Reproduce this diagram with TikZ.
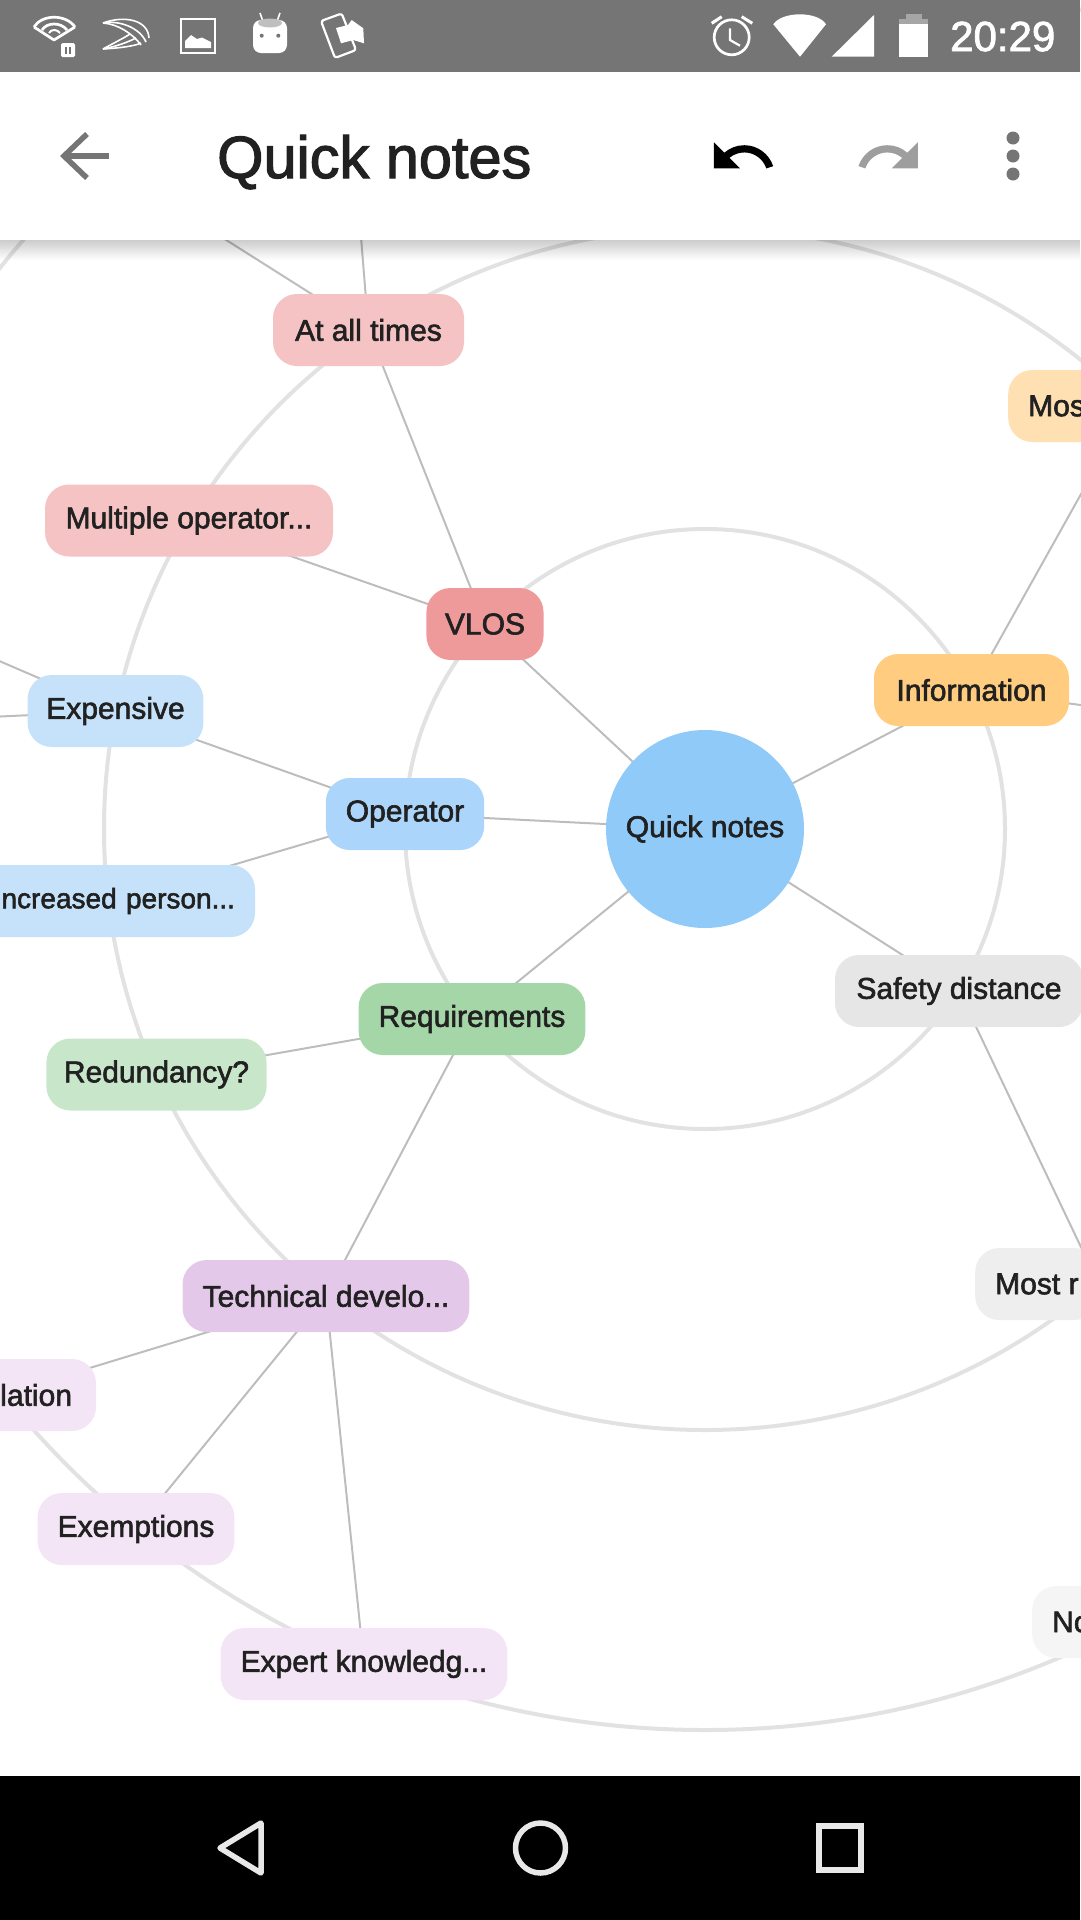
\documentclass[tikz,border=0pt]{standalone}
\usepackage{fontspec}
\setmainfont{Liberation Sans}
\newfontfamily\medfont[FakeBold=2]{Liberation Sans}
\usetikzlibrary{backgrounds}
\definecolor{ringgray}{HTML}{E2E2E2}
\definecolor{edgegray}{HTML}{BDBDBD}
\definecolor{inkgray}{HTML}{212121}
\definecolor{barmid}{HTML}{757575}
\definecolor{navgray}{HTML}{E8E8E8}
\definecolor{centerblue}{HTML}{90CAF9}
\definecolor{opblue}{HTML}{ABD5FA}
\definecolor{leafblue}{HTML}{C6E2FA}
\definecolor{vlosred}{HTML}{EF9A9A}
\definecolor{leafred}{HTML}{F5C3C4}
\definecolor{reqgreen}{HTML}{A5D6A7}
\definecolor{leafgreen}{HTML}{C8E6C9}
\definecolor{techpurple}{HTML}{E4C8EA}
\definecolor{leafpurple}{HTML}{F3E5F5}
\definecolor{infoorange}{HTML}{FFCC80}
\definecolor{leaforange}{HTML}{FFE0B2}
\definecolor{safegray}{HTML}{E6E6E6}
\definecolor{leafgray}{HTML}{EEEEEE}
\definecolor{farleaf}{HTML}{F5F5F5}
\tikzset{
    label font/.style={font=\medfont\fontsize{30}{36}\selectfont},
    bubble/.style={rounded corners=24pt, minimum height=72pt, inner xsep=20pt, inner ysep=0pt,
        text=inkgray, label font},
    ring/.style={draw=ringgray, line width=4pt},
    edge/.style={draw=edgegray, line width=2pt},
    barline/.style={draw=white, line width=2.7pt},
    navline/.style={draw=navgray, line width=5.5pt, line join=round},
}
\begin{document}
\begin{tikzpicture}[x=1pt,y=-1pt]
    \useasboundingbox (0,0) rectangle (1080,1920);

    \node[circle, fill=centerblue, minimum size=198pt, inner sep=0pt, text=inkgray, label font] (quick) at (705,829) {Quick notes};

    \node[bubble, fill=vlosred, inner xsep=18.5pt] (vlos) at (485,624) {VLOS};
    \node[bubble, fill=leafred, minimum width=191pt] (times) at (368.5,330) {At all times};
    \node[bubble, fill=leafred, minimum width=288pt] (multi) at (189,520.5) {Multiple operator...};

    \node[bubble, fill=opblue] (operator) at (405,814) {Operator};
    \node[bubble, fill=leafblue, inner xsep=18.7pt] (expensive) at (115.5,711) {Expensive};
    \node[bubble, fill=leafblue, text width=248pt, align=right, font=\medfont\fontsize{28}{34}\selectfont] (person) at (111,901) {\hspace*{\fill}\llap{ncreased person...}};

    \node[bubble, fill=reqgreen] (require) at (472,1019) {Requirements};
    \node[bubble, fill=leafgreen, inner xsep=17.5pt] (redund) at (156.5,1074.5) {Redundancy?};

    \node[bubble, fill=techpurple] (tech) at (326,1296) {Technical develo...};
    \node[bubble, fill=leafpurple, text width=150pt, align=right] (lation) at (1,1395) {\hspace*{\fill}\llap{lation\hspace{4pt}}};
    \node[bubble, fill=leafpurple] (exempt) at (136,1529) {Exemptions};
    \node[bubble, fill=leafpurple] (expert) at (364,1664) {Expert knowledg...};

    \node[bubble, fill=infoorange, minimum width=195pt] (info) at (971.5,690) {Information};
    \node[bubble, fill=leaforange, anchor=west] (mos) at (1008,406) {Mos\hspace{40pt}};
    \node[bubble, fill=safegray, minimum width=248pt] (safety) at (959,991) {Safety distance};
    \node[bubble, fill=leafgray, anchor=west] (mostr) at (975,1284) {Most r\hspace{60pt}};
    \node[bubble, fill=farleaf, anchor=west] (no) at (1032,1622) {No\hspace{40pt}};

    % off screen ends
    \coordinate (timesa) at (163,200);
    \coordinate (timesb) at (358,200);
    \coordinate (expa) at (-10,657);
    \coordinate (expb) at (-10,717);
    \coordinate (infoa) at (1090,478);
    \coordinate (infob) at (1095,707);
    \coordinate (safea) at (1120,1329);

    \begin{scope}[on background layer]
        \draw[ring] (quick.center) circle[radius=300];
        \draw[ring] (quick.center) circle[radius=601];
        \draw[ring] (quick.center) circle[radius=901];

        \foreach \from/\to in {quick/vlos, quick/operator, quick/require, quick/info, quick/safety,
            vlos/times, vlos/multi, times/timesa, times/timesb,
            operator/expensive, operator/person, expensive/expa, expensive/expb,
            require/redund, require/tech, tech/lation, tech/exempt, tech/expert,
            info/infoa, info/infob, safety/safea}
            \draw[edge] (\from.center) -- (\to.center);
    \end{scope}

    % app bar
    \fill[white] (0,72) rectangle (1080,240);
    \foreach \i in {0,...,19}
        \fill[black, opacity={0.2*(1-\i/20)}] (0,{240+\i}) rectangle (1080,{241+\i});
    \node[anchor=base west, inner sep=0pt, text=inkgray, font=\medfont\fontsize{59.5}{64}\selectfont] (title) at (217,178) {Quick notes};
    \draw[barmid, line width=5.5pt] (109,156) -- (64,156);
    \draw[barmid, line width=5.5pt] (87,134) -- (64,156) -- (87,178);
    \begin{scope}[shift={(708,122)}, scale=2.9]
        \fill[black] (12.5,8) .. controls (9.85,8) and (7.45,8.99) .. (5.6,10.6) -- (2,7) -- (2,16) -- (11,16) -- (7.38,12.38) .. controls (8.77,11.22) and (10.54,10.5) .. (12.5,10.5) .. controls (16.04,10.5) and (19.05,12.81) .. (20.1,16) -- (22.47,15.22) .. controls (21.08,11.03) and (17.15,8) .. (12.5,8) -- cycle;
    \end{scope}
    \begin{scope}[shift={(854,122)}, scale=2.9]
        \fill[black!38] (18.4,10.6) .. controls (16.55,8.99) and (14.15,8) .. (11.5,8) .. controls (6.85,8) and (2.92,11.03) .. (1.54,15.22) -- (3.9,16) .. controls (4.95,12.81) and (7.95,10.5) .. (11.5,10.5) .. controls (13.45,10.5) and (15.23,11.22) .. (16.62,12.38) -- (13,16) -- (22,16) -- (22,7) -- cycle;
    \end{scope}
    \foreach \y in {138,156,174}
        \fill[barmid] (1013,\y) circle[radius=6.5];

    % status bar
    \fill[barmid] (0,0) rectangle (1080,72);
    \node[anchor=base west, inner sep=0pt, text=white, font=\medfont\fontsize{42}{48}\selectfont] (clock) at (950,51) {20:29};
    % headphones app
    \draw[barline, line join=round] (34,27) -- (54,40) -- (75,27);
    \draw[barline] (34,27) .. controls (42,14) and (66,14) .. (75,27);
    \draw[barline] (42,30) .. controls (47,22) and (61,22) .. (67,30);
    \draw[barline, line width=2pt] (49,33) .. controls (51,29) and (57,29) .. (60,33);
    \fill[white, rounded corners=1.5pt] (61,43) rectangle (75,57);
    \fill[barmid] (64.5,47) rectangle (66.5,54);
    \fill[barmid] (69,47) rectangle (71,54);
    % keyboard swirl
    \foreach \ax/\ay/\bx/\by/\cx/\cy in {125/15/148/20/149/38, 120/20/140/28/146/42, 118/24/133/34/141/45}
        \draw[white, line width=1.6pt] (103,23) .. controls (\ax,\ay) and (\bx,\by) .. (\cx,\cy);
    \foreach \ax/\ay/\bx/\by/\cx/\cy in {120/48/135/46/141/43, 118/46/128/42/136/38, 112/44/124/38/130/34}
        \draw[white, line width=1.6pt] (103,49) .. controls (\ax,\ay) and (\bx,\by) .. (\cx,\cy);
    % picture
    \draw[barline, line width=2.4pt] (181,19) rectangle (215,53);
    \fill[white] (185,48) -- (185,41) -- (191,35) -- (197,39) -- (202,37.5) -- (211,42) -- (211,48) -- cycle;
    % android
    \draw[white, line width=1.6pt] (262.5,20) -- (260,13);
    \draw[white, line width=1.6pt] (277.5,20) -- (280,13);
    \fill[white, rounded corners=8pt] (253,20) rectangle (287,53);
    \fill[black!25] (270,23) ellipse[x radius=12, y radius=4.5];
    \fill[barmid] (261.7,35.7) circle[radius=2];
    \fill[barmid] (278.3,35.7) circle[radius=2];
    % phone and book
    \draw[barline, line width=2.2pt, rounded corners=2.5pt] (321,21) -- (341.7,13.5) -- (356,50) -- (335,58) -- cycle;
    \fill[white] (336,28) -- (348,25) -- (351.7,20) -- (363.3,28.3) -- (364,43.3) -- (353.3,40) -- (341,43.3) -- cycle;
    % alarm
    \draw[barline] (731.7,37.3) circle[radius=17.5];
    \draw[barline, line width=2.2pt] (730,28.3) -- (730,40) -- (740,45.7);
    \draw[barline, line width=3pt] (711.7,23.3) -- (721.7,16.7);
    \draw[barline, line width=3pt] (741.7,16.7) -- (752.3,23.3);
    % wifi, signal, battery
    \fill[white] (800,56.7) -- (773.3,24.3) .. controls (782,11) and (818,11) .. (826,24.3) -- cycle;
    \fill[white] (831.7,56.7) -- (874,56.7) -- (874,15) -- cycle;
    \fill[black!35] (906,14.3) rectangle (921.7,19);
    \fill[black!35] (899.3,19) rectangle (927.7,24);
    \fill[white] (899.3,24) rectangle (927.7,57.3);

    % nav bar
    \fill[black] (0,1776) rectangle (1080,1920);
    \draw[navline] (261,1823) -- (220,1848) -- (261,1873) -- cycle;
    \draw[navline] (540.5,1848) circle[radius=25];
    \draw[navline, line join=miter] (819,1826) rectangle (861,1870);
\end{tikzpicture}
\end{document}
